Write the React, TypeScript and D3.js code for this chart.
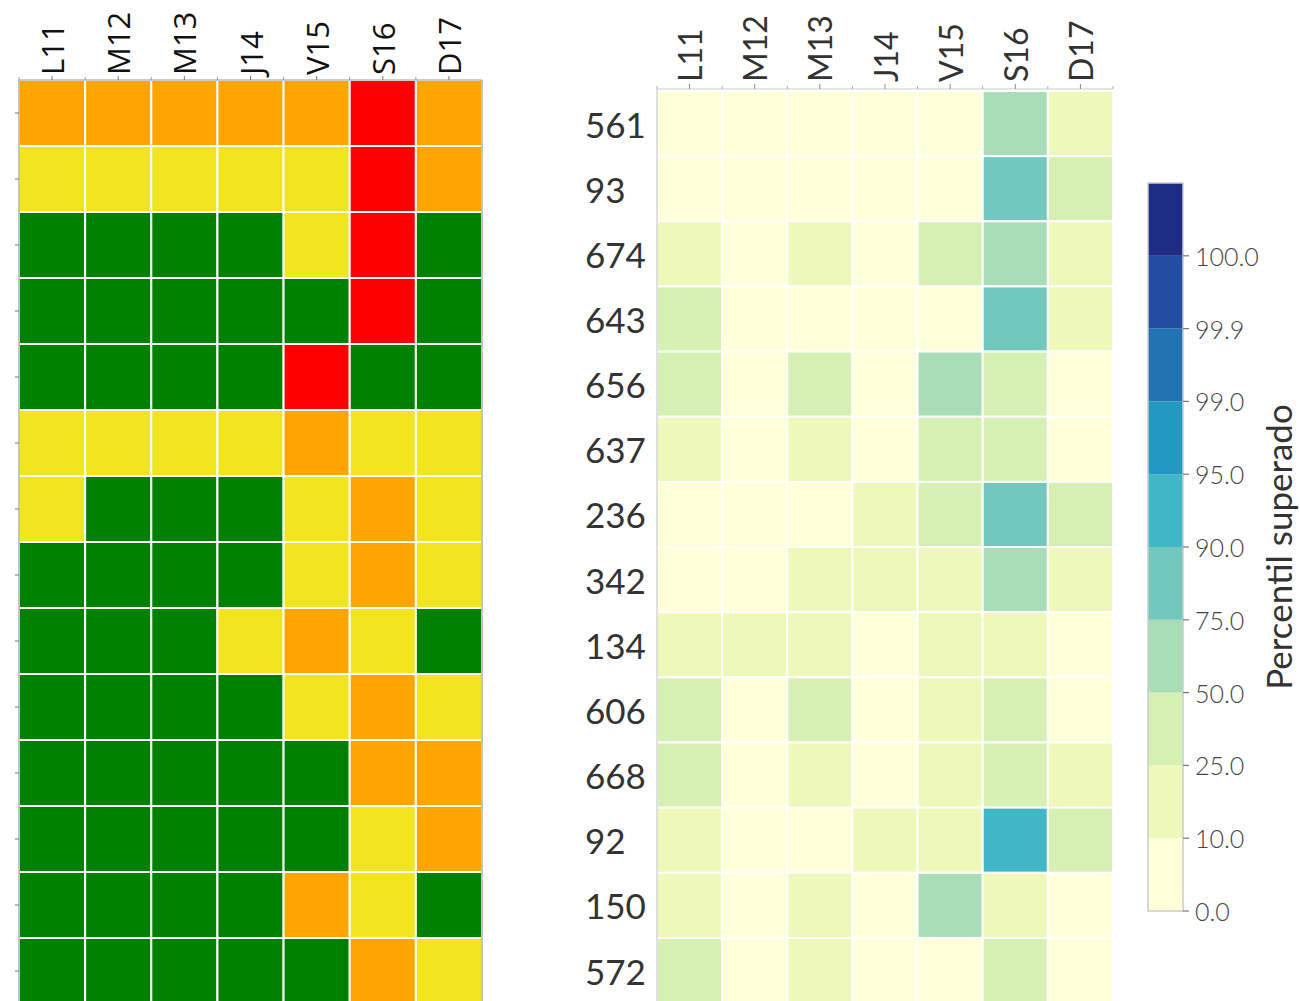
import React from "react";
import * as d3 from "d3";

const days = ["L11", "M12", "M13", "J14", "V15", "S16", "D17"];
const stations = ["561", "93", "674", "643", "656", "637", "236", "342", "134", "606", "668", "92", "150", "572"];

// left panel: alert level per station/day (0 verde, 1 amarillo, 2 naranja, 3 rojo)
const alertLevels = [
  [2, 2, 2, 2, 2, 3, 2],
  [1, 1, 1, 1, 1, 3, 2],
  [0, 0, 0, 0, 1, 3, 0],
  [0, 0, 0, 0, 0, 3, 0],
  [0, 0, 0, 0, 3, 0, 0],
  [1, 1, 1, 1, 2, 1, 1],
  [1, 0, 0, 0, 1, 2, 1],
  [0, 0, 0, 0, 1, 2, 1],
  [0, 0, 0, 1, 2, 1, 0],
  [0, 0, 0, 0, 1, 2, 1],
  [0, 0, 0, 0, 0, 2, 2],
  [0, 0, 0, 0, 0, 1, 2],
  [0, 0, 0, 0, 2, 1, 0],
  [0, 0, 0, 0, 0, 2, 1],
];
const alertColors = ["#008000", "#f1e51f", "#ffa500", "#ff0000"];

// right panel: percentil superado per station/day
const percentiles = [
  [4, 3, 5, 4, 6, 62, 14],
  [3, 4, 5, 3, 7, 81, 33],
  [16, 6, 14, 5, 36, 58, 18],
  [38, 5, 4, 6, 5, 84, 15],
  [34, 6, 31, 5, 64, 37, 7],
  [17, 5, 15, 6, 33, 36, 6],
  [6, 5, 4, 14, 37, 82, 30],
  [5, 6, 15, 13, 17, 63, 16],
  [18, 16, 14, 6, 15, 14, 5],
  [32, 4, 35, 7, 15, 36, 6],
  [36, 6, 17, 5, 14, 33, 17],
  [16, 5, 6, 15, 16, 93, 35],
  [15, 5, 14, 6, 61, 15, 4],
  [34, 6, 15, 5, 7, 36, 5],
];

const bounds = [0, 10, 25, 50, 75, 90, 95, 99, 99.9, 100];
const boundLabels = ["0.0", "10.0", "25.0", "50.0", "75.0", "90.0", "95.0", "99.0", "99.9", "100.0"];
const bandColors = [
  "#ffffd9", "#edf8b9", "#d6efb3", "#a9ddb7", "#73c8bd",
  "#41b6c4", "#2498c1", "#2173b1", "#234da0", "#1f2c85",
];

const font = "Lato, sans-serif";

export default function App() {
  // left heatmap
  const xL = d3.scaleBand<string>().domain(days).range([19, 482]);
  const yL = d3.scaleBand<string>().domain(stations).range([80, 80 + 66 * stations.length]);
  const alertColor = d3.scaleOrdinal<number, string>().domain([0, 1, 2, 3]).range(alertColors);

  // right heatmap
  const xR = d3.scaleBand<string>().domain(days).range([657, 1113]);
  const yR = d3.scaleBand<string>().domain(stations).range([91, 91 + 65.15 * stations.length]);
  const pctColor = d3.scaleThreshold<number, string>().domain(bounds.slice(1)).range(bandColors);

  // colorbar
  const cbX = 1148;
  const cbW = 35;
  const cbY = d3.scaleLinear().domain([0, bandColors.length]).range([911, 183]);

  return (
    <div style={{ position: "fixed", left: 0, top: 0 }}>
      <svg width={1300} height={1001} style={{ display: "block", background: "#fff" }}>
        {/* left panel */}
        <g>
          {alertLevels.map((row, i) =>
            row.map((v, j) => (
              <rect
                key={`l${i}-${j}`}
                x={xL(days[j])}
                y={yL(stations[i])}
                width={xL.bandwidth()}
                height={yL.bandwidth()}
                fill={alertColor(v)}
                stroke="#fff"
                strokeWidth={2}
              />
            ))
          )}
          <line x1={19} x2={482} y1={80} y2={80} stroke="#999" strokeWidth={1.2} />
          <line x1={19} x2={19} y1={80} y2={1001} stroke="#999" strokeWidth={1.2} />
          <line x1={482} x2={482} y1={80} y2={1001} stroke="#999" strokeWidth={1.2} />
          {days.map((d) => {
            const cx = (xL(d) ?? 0) + xL.bandwidth() / 2;
            return (
              <g key={`lt${d}`}>
                <line x1={cx} x2={cx} y1={80} y2={76} stroke="#777" strokeWidth={1} />
                <line x1={xL(d)} x2={xL(d)} y1={80} y2={77} stroke="#999" strokeWidth={1} />
                <text
                  transform={`translate(${cx},75) rotate(-90)`}
                  textAnchor="start"
                  dominantBaseline="central"
                  fontFamily="Open Sans, sans-serif"
                  fontWeight={400}
                  fontSize={31}
                  fill="#111"
                >
                  {d}
                </text>
              </g>
            );
          })}
          {stations.map((s) => {
            const cy = (yL(s) ?? 0) + yL.bandwidth() / 2;
            return <line key={`lr${s}`} x1={15} x2={19} y1={cy} y2={cy} stroke="#777" strokeWidth={1} />;
          })}
        </g>

        {/* right panel */}
        <g>
          {percentiles.map((row, i) =>
            row.map((v, j) => (
              <rect
                key={`r${i}-${j}`}
                x={xR(days[j])}
                y={yR(stations[i])}
                width={xR.bandwidth()}
                height={yR.bandwidth()}
                fill={pctColor(v)}
                stroke="#fff"
                strokeWidth={2}
              />
            ))
          )}
          <line x1={657} x2={1113} y1={89} y2={89} stroke="#ccc" strokeWidth={1.2} />
          <line x1={657} x2={657} y1={89} y2={1001} stroke="#ccc" strokeWidth={1.2} />
          {days.map((d) => {
            const cx = (xR(d) ?? 0) + xR.bandwidth() / 2;
            return (
              <g key={`rt${d}`}>
                <line x1={cx} x2={cx} y1={89} y2={84} stroke="#888" strokeWidth={1} />
                <line x1={xR(d)} x2={xR(d)} y1={89} y2={86} stroke="#aaa" strokeWidth={1} />
                <text
                  transform={`translate(${cx},82) rotate(-90)`}
                  textAnchor="start"
                  dominantBaseline="central"
                  fontFamily={font}
                  fontWeight={400}
                  fontSize={32}
                  fill="#333"
                >
                  {d}
                </text>
              </g>
            );
          })}
          <line x1={1113} x2={1113} y1={89} y2={86} stroke="#aaa" strokeWidth={1} />
          {stations.map((s) => {
            const cy = (yR(s) ?? 0) + yR.bandwidth() / 2;
            return (
              <text
                key={`rl${s}`}
                x={585}
                y={cy}
                dominantBaseline="central"
                fontFamily={font}
                fontWeight={400}
                fontSize={35}
                fill="#333"
              >
                {s}
              </text>
            );
          })}
        </g>

        {/* colorbar */}
        <g>
          {bandColors.map((c, i) => (
            <rect key={`cb${i}`} x={cbX} y={cbY(i + 1)} width={cbW} height={cbY(i) - cbY(i + 1)} fill={c} />
          ))}
          <rect x={cbX} y={cbY(bandColors.length)} width={cbW} height={cbY(0) - cbY(bandColors.length)} fill="none" stroke="#ccc" strokeWidth={1.5} />
          {boundLabels.map((t, i) => (
            <g key={`cbt${i}`}>
              <line x1={cbX + cbW} x2={cbX + cbW + 6} y1={cbY(i)} y2={cbY(i)} stroke="#777" strokeWidth={1.2} />
              <text
                x={cbX + cbW + 12}
                y={cbY(i)}
                dominantBaseline="central"
                fontFamily={font}
                fontWeight={300}
                fontSize={25}
                fill="#444"
              >
                {t}
              </text>
            </g>
          ))}
          <text
            transform="translate(1278,547) rotate(-90)"
            textAnchor="middle"
            dominantBaseline="central"
            fontFamily={font}
            fontWeight={400}
            fontSize={35}
            fill="#333"
          >
            Percentil superado
          </text>
        </g>
      </svg>
    </div>
  );
}
